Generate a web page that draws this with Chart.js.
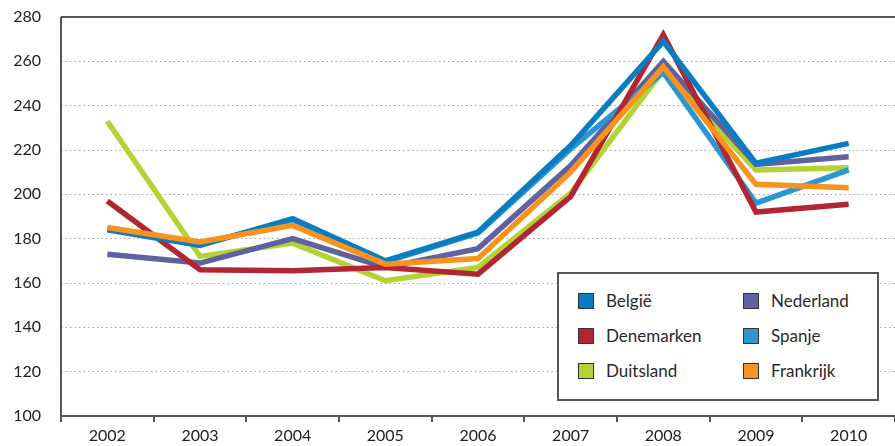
<!DOCTYPE html>
<html>
<head>
<meta charset="utf-8">
<script src="https://cdn.jsdelivr.net/npm/chart.js@4"></script>
<style>
  html, body { margin: 0; padding: 0; background: #fff; }
  #wrap { position: relative; width: 895px; height: 446px; }
  #legend {
    position: absolute; left: 557px; top: 272px; width: 322px; height: 129px;
    background: #fff; border: 2px solid #555; box-sizing: border-box;
    font-family: Lato, "Open Sans", sans-serif; font-size: 17px; color: #2a2a2a;
  }
  .item { position: absolute; display: flex; align-items: center; }
  .sw { width: 14px; height: 14px; border: 1.5px solid #333; margin-right: 12px; }
</style>
</head>
<body>
<div id="wrap">
  <canvas id="chart" width="895" height="446"></canvas>
  <div id="legend"></div>
</div>
<script>
const years = ["2002", "2003", "2004", "2005", "2006", "2007", "2008", "2009", "2010"];
const yTicks = [100, 120, 140, 160, 180, 200, 220, 240, 260, 280];

const belgie     = [184, 177, 189, 170, 183, 222, 269, 214, 223];
const denemarken = [197, 166, 165.5, 167, 164, 199, 272, 192, 195.5];
const duitsland  = [233, 172, 178, 161, 167, 200.5, 256, 211, 212];
const nederland  = [173, 169, 180, 167, 175.5, 213, 260, 213.5, 217];
const spanje     = [184.5, 177.5, 188, 169.5, 182.5, 220.5, 255, 196, 211];
const frankrijk  = [185, 178.5, 186, 168.5, 171, 210, 257.5, 204.5, 203];

const series = [
  { label: "België", data: belgie, color: "#0a7dc2", order: 1 },
  { label: "Denemarken", data: denemarken, color: "#b22633", order: 2 },
  { label: "Duitsland", data: duitsland, color: "#b3d335", order: 5 },
  { label: "Nederland", data: nederland, color: "#5f629e", order: 4 },
  { label: "Spanje", data: spanje, color: "#2a97d3", order: 3 },
  { label: "Frankrijk", data: frankrijk, color: "#f7931e", order: 0 }
];

// legend in two columns
const legendEl = document.getElementById("legend");
series.forEach((s, i) => {
  const col = Math.floor(i / 3), row = i % 3;
  const div = document.createElement("div");
  div.className = "item";
  div.style.left = (col === 0 ? 19 : 184) + "px";
  div.style.top = (16 + row * 35) + "px";
  div.innerHTML = `<span class="sw" style="background:${s.color}"></span><span>${s.label}</span>`;
  legendEl.appendChild(div);
});

const axisLines = {
  id: "axisLines",
  beforeDatasetsDraw(chart) {
    const { ctx, chartArea: a } = chart;
    ctx.save();
    ctx.strokeStyle = "#555";
    ctx.lineWidth = 2;
    ctx.beginPath();
    ctx.moveTo(a.left, a.top);
    ctx.lineTo(chart.width, a.top);
    ctx.moveTo(a.left, a.top);
    ctx.lineTo(a.left, a.bottom);
    ctx.moveTo(a.left, a.bottom);
    ctx.lineTo(chart.width, a.bottom);
    ctx.stroke();
    ctx.restore();
  }
};

new Chart(document.getElementById("chart"), {
  type: "line",
  data: {
    labels: years,
    datasets: series.map(s => ({
      label: s.label,
      data: s.data,
      borderColor: s.color,
      backgroundColor: s.color,
      borderWidth: 5.5,
      pointRadius: 0,
      tension: 0,
      order: s.order
    }))
  },
  options: {
    responsive: false,
    animation: false,
    layout: { padding: { top: 17, right: 0, left: 0, bottom: 0 } },
    plugins: { legend: { display: false }, tooltip: { enabled: false } },
    scales: {
      x: {
        offset: true,
        grid: { offset: true, drawOnChartArea: false, drawTicks: true, tickLength: 6, color: "#555", lineWidth: 2 },
        border: { display: false },
        ticks: { color: "#222", padding: 4, maxRotation: 0, font: { family: "Lato", size: 16 } },
        afterFit: s => { s.height = 30; }
      },
      y: {
        min: 100,
        max: 280,
        afterBuildTicks: s => { s.ticks = yTicks.map(v => ({ value: v })); },
        grid: {
          drawTicks: false,
          color: c => (c.tick && (c.tick.value === 100 || c.tick.value === 280)) ? "rgba(0,0,0,0)" : "#a0a0a0",
          lineWidth: 1
        },
        border: { display: false, dash: [1.5, 3] },
        ticks: { color: "#222", padding: 20, font: { family: "Lato", size: 16 } },
        afterFit: s => { s.width = 61; s.paddingTop = 0; s.paddingBottom = 0; }
      }
    }
  },
  plugins: [axisLines]
});
</script>
</body>
</html>
